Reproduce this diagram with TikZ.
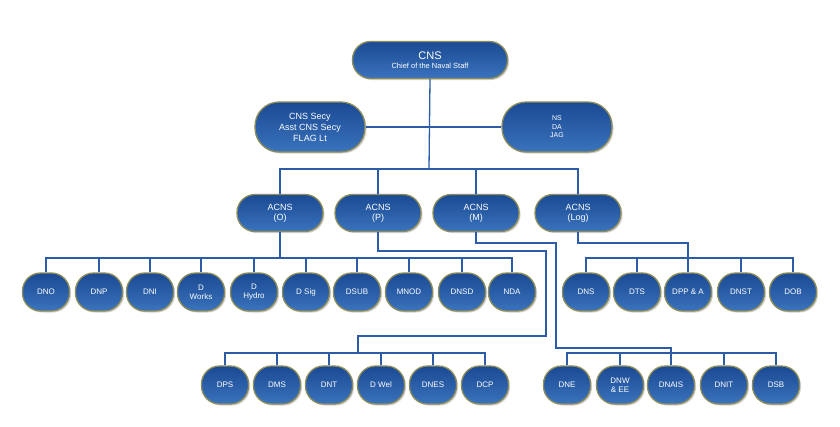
\documentclass[tikz,border=0pt]{standalone}
\usepackage{fontspec}
\setmainfont{Liberation Sans}
\usetikzlibrary{shadows,calc}
\definecolor{ln}{HTML}{2C5BA8}
\definecolor{bd}{HTML}{8E8C58}
\definecolor{ftop}{HTML}{1B4A93}
\definecolor{fbot}{HTML}{3A73BD}
\begin{document}
\begin{tikzpicture}[x=1pt,y=-1pt,
 box/.style={draw=bd,line width=1.3pt,top color=ftop,bottom color=fbot,text=white,
   align=center,inner sep=1pt,drop shadow={opacity=0.35,shadow xshift=1.5pt,shadow yshift=-1.5pt}},
 big/.style={box,minimum width=155pt,minimum height=37pt,rounded corners=18pt,font=\fontsize{9}{10}\selectfont},
 mid/.style={box,minimum width=110pt,minimum height=50pt,rounded corners=24pt,font=\fontsize{9}{11}\selectfont},
 ac/.style={box,minimum width=86pt,minimum height=37pt,rounded corners=18pt,font=\fontsize{9}{10}\selectfont},
 sm/.style={box,minimum width=47pt,minimum height=38pt,rounded corners=18pt,font=\fontsize{8}{9}\selectfont},
 con/.style={draw=ln,line width=1.3pt}]
\useasboundingbox (0,0) rectangle (840,426);
\fill[white] (0,0) rectangle (840,426);
% connectors first
\coordinate (j1) at (429,169);
\coordinate (side) at (429,127);
\node[big] (cns) at (430,60) {{\fontsize{11}{12}\selectfont CNS}\\[-1pt]{\fontsize{7.5}{8}\selectfont Chief of the Naval Staff}};
\node[mid] (secy) at (310,127) {CNS Secy\\Asst CNS Secy\\FLAG Lt};
\node[mid,font=\fontsize{7}{8.5}\selectfont] (ns) at (557,127) {NS\\DA\\JAG};
\node[ac] (o) at (280,213) {ACNS\\(O)};
\node[ac] (p) at (378,213) {ACNS\\(P)};
\node[ac] (m) at (476,213) {ACNS\\(M)};
\node[ac] (lg) at (578,213) {ACNS\\(Log)};
\foreach \n/\x/\t in {a1/46/DNO,a2/99/DNP,a3/150/DNI,a4/201/{D\\Works},a5/254/{D\\Hydro},a6/306/D Sig,a7/357/DSUB,a8/409/MNOD,a9/462/DNSD,a10/512/NDA,
  b1/586/DNS,b2/637/DTS,b3/688/DPP \& A,b4/741/DNST,b5/793/DOB}
  \node[sm] (\n) at (\x,292) {\t};
\foreach \n/\x/\t in {c1/225/DPS,c2/277/DMS,c3/329/DNT,c4/381/D Wel,c5/433/DNES,c6/485/DCP,
  d1/567/DNE,d2/620/{DNW\\\& EE},d3/671/DNAIS,d4/724/DNIT,d5/776/DSB}
  \node[sm] (\n) at (\x,385) {\t};
\begin{scope}[on background layer/.style={}]
\end{scope}
\begin{pgfinterruptboundingbox}\end{pgfinterruptboundingbox}
% draw connectors (behind via order: redraw nodes not needed since lines end at borders)
\draw[con] (cns.south) -- (j1);
\draw[con] (secy.east) -- (ns.west);
\draw[con] (o.north) |- (j1) -| (lg.north);
\draw[con] (p.north) -- (p.north |- j1);
\draw[con] (m.north) -- (m.north |- j1);
% ACNS(O) bus
\draw[con] (o.south) -- (o.south |- 0,258);
\draw[con] (a1.north) |- (0,258 -| a10.north) -- (a10.north);
\foreach \n in {a2,a3,a4,a5,a6,a7,a8,a9} \draw[con] (\n.north) -- (\n.north |- 0,258);
% ACNS(Log) bus
\draw[con] (lg.south) |- (688,243) -- (b3.north);
\draw[con] (b1.north) |- (0,258 -| b5.north) -- (b5.north);
\foreach \n in {b2,b4} \draw[con] (\n.north) -- (\n.north |- 0,258);
% ACNS(P)
\coordinate (pp) at (546,251);
\coordinate (pq) at (358,336);
\draw[con] (p.south) |- (pp) |- (pq) -- (pq |- 0,353);
\draw[con] (c1.north) |- (0,353 -| c6.north) -- (c6.north);
\foreach \n in {c2,c3,c4,c5} \draw[con] (\n.north) -- (\n.north |- 0,353);
% ACNS(M)
\coordinate (mp) at (556,243);
\coordinate (mq) at (671,348);
\draw[con] (m.south) |- (mp) |- (mq) -- (d3.north);
\draw[con] (d1.north) |- (0,353 -| d5.north) -- (d5.north);
\foreach \n in {d2,d4} \draw[con] (\n.north) -- (\n.north |- 0,353);
\end{tikzpicture}
\end{document}
